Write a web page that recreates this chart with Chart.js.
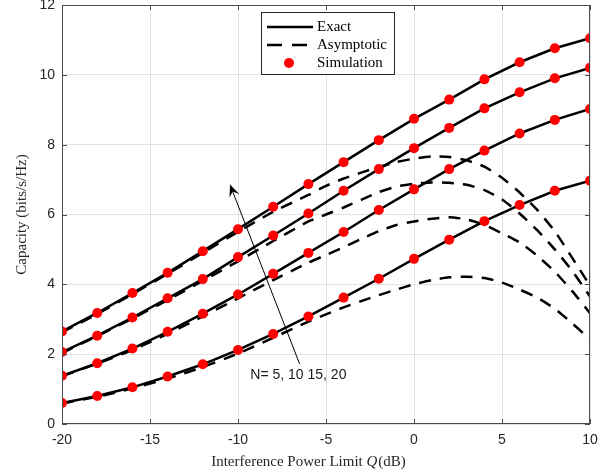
<!DOCTYPE html>
<html>
<head>
<meta charset="utf-8">
<script src="https://cdn.jsdelivr.net/npm/chart.js@4.4.1/dist/chart.umd.min.js"></script>
<style>
  html, body { margin: 0; padding: 0; background: #fff; }
  #wrap { width: 616px; height: 476px; }
</style>
</head>
<body>
<div id="wrap"><canvas id="capacityChart" width="616" height="476"></canvas></div>
<script>
// interference power limit Q (dB), exact / simulation points every 2 dB
var qExact = [-20, -18, -16, -14, -12, -10, -8, -6, -4, -2, 0, 2, 4, 6, 8, 10];
var exactN5  = [0.60, 0.80, 1.05, 1.36, 1.71, 2.12, 2.58, 3.08, 3.62, 4.16, 4.73, 5.28, 5.81, 6.27, 6.68, 6.97];
var exactN10 = [1.38, 1.74, 2.16, 2.64, 3.16, 3.71, 4.30, 4.90, 5.50, 6.13, 6.72, 7.30, 7.83, 8.32, 8.71, 9.02];
var exactN15 = [2.06, 2.53, 3.05, 3.60, 4.15, 4.78, 5.40, 6.03, 6.68, 7.30, 7.90, 8.48, 9.04, 9.50, 9.90, 10.20];
var exactN20 = [2.65, 3.18, 3.75, 4.33, 4.95, 5.58, 6.22, 6.87, 7.50, 8.13, 8.74, 9.29, 9.87, 10.36, 10.76, 11.05];

// asymptotic curves, sampled more finely where they bend
var qAsym = [-20, -18, -16, -14, -12, -10, -8, -6, -5, -4, -3, -2, -1, 0, 1, 2, 3, 4, 5, 6, 7, 8, 9, 10];
var asymN5  = [0.59, 0.78, 1.02, 1.30, 1.63, 2.02, 2.47, 2.93, 3.14, 3.34, 3.52, 3.69, 3.85, 4.00, 4.12, 4.20, 4.22, 4.18, 4.05, 3.85, 3.62, 3.30, 2.88, 2.42];
var asymN10 = [1.37, 1.73, 2.12, 2.58, 3.08, 3.60, 4.12, 4.62, 4.84, 5.06, 5.30, 5.52, 5.70, 5.80, 5.88, 5.92, 5.86, 5.70, 5.46, 5.20, 4.82, 4.36, 3.80, 3.17];
var asymN15 = [2.03, 2.52, 3.02, 3.55, 4.10, 4.66, 5.24, 5.80, 6.00, 6.20, 6.42, 6.64, 6.80, 6.88, 6.92, 6.91, 6.85, 6.70, 6.43, 6.03, 5.55, 5.00, 4.38, 3.65];
var asymN20 = [2.63, 3.15, 3.72, 4.30, 4.90, 5.50, 6.08, 6.56, 6.82, 7.03, 7.20, 7.36, 7.50, 7.60, 7.66, 7.65, 7.55, 7.37, 7.05, 6.63, 6.13, 5.52, 4.75, 3.96];

var legendLabels = ['Exact', 'Asymptotic', 'Simulation'];
var arrowText = 'N= 5, 10 15, 20';

var serif = "'Liberation Serif', 'Times New Roman', serif";
var sans = "'Liberation Sans', Arial, sans-serif";
var dashPattern = [12, 9];

function pts(xs, ys) {
  var out = [];
  for (var i in xs) {
    out.push({x: xs[i], y: ys[i]});
  }
  return out;
}

var exactSets = [exactN5, exactN10, exactN15, exactN20];
var asymSets = [asymN5, asymN10, asymN15, asymN20];
var datasets = [];

// simulation markers first so they sit on top
for (var i in exactSets) {
  datasets.push({
    label: 'Simulation',
    data: pts(qExact, exactSets[i]),
    showLine: false,
    pointRadius: 5,
    pointBackgroundColor: '#ff0000',
    pointBorderWidth: 0,
    order: 1
  });
}
for (var i in exactSets) {
  datasets.push({
    label: 'Exact',
    data: pts(qExact, exactSets[i]),
    borderColor: '#000',
    borderWidth: 2.5,
    pointRadius: 0,
    tension: 0,
    order: 2
  });
}
for (var i in asymSets) {
  datasets.push({
    label: 'Asymptotic',
    data: pts(qAsym, asymSets[i]),
    borderColor: '#000',
    borderWidth: 2.5,
    borderDash: dashPattern,
    pointRadius: 0,
    tension: 0.2,
    order: 3
  });
}

// box, inner ticks, axis titles, arrow and legend
var decorations = {
  id: 'decorations',
  afterDraw: function(chart) {
    var ctx = chart.ctx;
    var a = chart.chartArea;
    var xs = chart.scales.x, ys = chart.scales.y;
    ctx.save();

    // axes box with inward ticks
    ctx.strokeStyle = '#4d4d4d';
    ctx.lineWidth = 1;
    ctx.strokeRect(a.left + 0.5, a.top + 0.5, a.right - a.left - 1, a.bottom - a.top - 1);
    ctx.beginPath();
    xs.ticks.forEach(function(t) {
      var px = Math.round(xs.getPixelForValue(t.value)) + 0.5;
      ctx.moveTo(px, a.bottom); ctx.lineTo(px, a.bottom - 5);
      ctx.moveTo(px, a.top); ctx.lineTo(px, a.top + 5);
    });
    ys.ticks.forEach(function(t) {
      var py = Math.round(ys.getPixelForValue(t.value)) + 0.5;
      ctx.moveTo(a.left, py); ctx.lineTo(a.left + 5, py);
      ctx.moveTo(a.right, py); ctx.lineTo(a.right - 5, py);
    });
    ctx.stroke();

    // x title with italic Q
    ctx.fillStyle = '#262626';
    ctx.textBaseline = 'middle';
    var p1 = 'Interference Power Limit ', p2 = 'Q', p3 = '(dB)';
    ctx.font = '15px ' + serif;
    var w1 = ctx.measureText(p1).width, w3 = ctx.measureText(p3).width;
    ctx.font = 'italic 15px ' + serif;
    var w2 = ctx.measureText(p2).width;
    var x0 = (a.left + a.right) / 2 - 18 - (w1 + w2 + w3) / 2;
    var ty = 462;
    ctx.textAlign = 'left';
    ctx.font = '15px ' + serif;
    ctx.fillText(p1, x0, ty);
    ctx.font = 'italic 15px ' + serif;
    ctx.fillText(p2, x0 + w1, ty);
    ctx.font = '15px ' + serif;
    ctx.fillText(p3, x0 + w1 + w2 + 1, ty);

    // y title
    ctx.save();
    ctx.translate(22, (a.top + a.bottom) / 2);
    ctx.rotate(-Math.PI / 2);
    ctx.textAlign = 'center';
    ctx.fillText('Capacity (bits/s/Hz)', 0, 0);
    ctx.restore();

    // arrow annotation
    var tailX = xs.getPixelForValue(-6.5), tailY = ys.getPixelForValue(1.72);
    var tipX = xs.getPixelForValue(-10.45), tipY = ys.getPixelForValue(6.85);
    ctx.strokeStyle = '#000';
    ctx.fillStyle = '#000';
    ctx.lineWidth = 1;
    ctx.beginPath();
    ctx.moveTo(tailX, tailY);
    ctx.lineTo(tipX, tipY);
    ctx.stroke();
    var ang = Math.atan2(tipY - tailY, tipX - tailX);
    var len = 13, half = 0.42;
    ctx.beginPath();
    ctx.moveTo(tipX, tipY);
    ctx.lineTo(tipX - len * Math.cos(ang - half), tipY - len * Math.sin(ang - half));
    ctx.lineTo(tipX - 0.55 * len * Math.cos(ang), tipY - 0.55 * len * Math.sin(ang));
    ctx.lineTo(tipX - len * Math.cos(ang + half), tipY - len * Math.sin(ang + half));
    ctx.closePath();
    ctx.fill();
    ctx.font = '14px ' + sans;
    ctx.fillStyle = '#1a1a1a';
    ctx.textAlign = 'left';
    ctx.fillText(arrowText, xs.getPixelForValue(-9.3), ys.getPixelForValue(1.4));

    // legend box
    var lx = 261, ly = 12, lw = 133, lh = 62;
    ctx.fillStyle = '#fff';
    ctx.fillRect(lx, ly, lw, lh);
    ctx.strokeStyle = '#262626';
    ctx.strokeRect(lx + 0.5, ly + 0.5, lw, lh);
    var rows = [27, 45, 63];
    ctx.strokeStyle = '#000';
    ctx.lineWidth = 2.5;
    ctx.beginPath();
    ctx.moveTo(267, rows[0]); ctx.lineTo(313, rows[0]);
    ctx.stroke();
    ctx.setLineDash([15, 10]);
    ctx.beginPath();
    ctx.moveTo(267, rows[1]); ctx.lineTo(313, rows[1]);
    ctx.stroke();
    ctx.setLineDash([]);
    ctx.fillStyle = '#ff0000';
    ctx.beginPath();
    ctx.arc(289, rows[2], 5, 0, Math.PI * 2);
    ctx.fill();
    ctx.fillStyle = '#000';
    ctx.font = '15px ' + serif;
    ctx.textAlign = 'left';
    for (var r in rows) {
      ctx.fillText(legendLabels[r], 317, rows[r]);
    }
    ctx.restore();
  }
};

var ctx = document.getElementById('capacityChart');
var capacityChart = new Chart(ctx, {
  type: 'line',
  data: { datasets: datasets },
  options: {
    responsive: false,
    animation: false,
    layout: { padding: { top: 5, right: 26, left: 0, bottom: 0 } },
    plugins: {
      legend: { display: false },
      tooltip: { enabled: false }
    },
    scales: {
      x: {
        type: 'linear',
        min: -20,
        max: 10,
        ticks: { stepSize: 5, padding: 8, color: '#262626', font: { family: sans, size: 14 } },
        grid: { color: '#e3e3e3', drawTicks: false },
        border: { display: false },
        afterFit: function(s) {
          s.height = 52;
          s.paddingLeft = 0;
          s.paddingRight = 0;
        }
      },
      y: {
        min: 0,
        max: 12,
        ticks: { stepSize: 2, padding: 7, color: '#262626', font: { family: sans, size: 14 } },
        grid: { color: '#e3e3e3', drawTicks: false },
        border: { display: false },
        afterFit: function(s) {
          s.width = 62;
          s.paddingTop = 0;
          s.paddingBottom = 0;
        }
      }
    }
  },
  plugins: [decorations]
});
</script>
</body>
</html>
